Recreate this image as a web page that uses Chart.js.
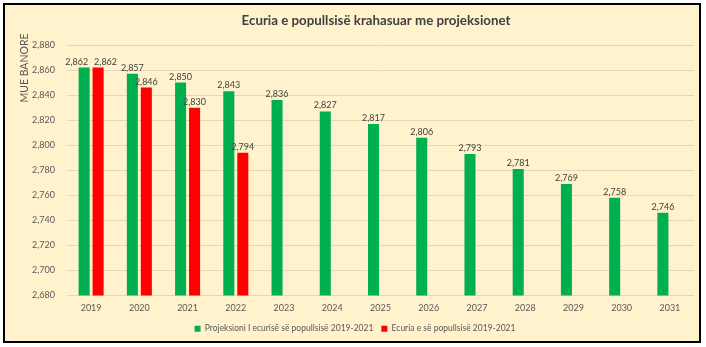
<!DOCTYPE html>
<html>
<head>
<meta charset="utf-8">
<script src="https://cdn.jsdelivr.net/npm/chart.js@4.4.1/dist/chart.umd.min.js"></script>
<style>
    body { margin: 0; background: #fff; }
    #marco { position: absolute; left: 3px; top: 3px; width: 694px; height: 336px; border: 2px solid #000; background: #FFF2CC; }
    #grafico { position: absolute; left: 0; top: 0; }
</style>
</head>
<body>
<div id="marco"></div>
<canvas id="grafico" width="706" height="347"></canvas>
<script>
//DATOS DEL GRAFICO
var anios = ["2019", "2020", "2021", "2022", "2023", "2024", "2025", "2026", "2027", "2028", "2029", "2030", "2031"];
var proyeccion = [2862, 2857, 2850, 2843, 2836, 2827, 2817, 2806, 2793, 2781, 2769, 2758, 2746];
var real = [2862, 2846, 2830, 2794, null, null, null, null, null, null, null, null, null];
var serieProyeccion = "Projeksioni I ecurisë së popullsisë 2019-2021";
var serieReal = "Ecuria e së popullsisë 2019-2021";
var titulo = "Ecuria e popullsisë krahasuar me projeksionet";
var tituloEje = "MUE BANORE";
var ejeMin = 2680, ejeMax = 2880, ejePaso = 20;

var fuente = "Lato";

//ETIQUETAS DE VALOR ENCIMA DE CADA BARRA
var etiquetasPlugin = {
    id: "etiquetas",
    afterDatasetsDraw: function (chart) {
        var ctx = chart.ctx;
        ctx.save();
        ctx.font = "9px " + fuente;
        ctx.fillStyle = "#404040";
        ctx.textAlign = "center";
        ctx.textBaseline = "alphabetic";
        for (var i = 0; i < anios.length; i++) {
            var items = [];
            for (var d = 0; d < chart.data.datasets.length; d++) {
                var v = chart.data.datasets[d].data[i];
                if (v == null) continue;
                var bar = chart.getDatasetMeta(d).data[i];
                var texto = v.toLocaleString("en-US");
                items.push({ x: bar.x, y: bar.y - 3, texto: texto, w: ctx.measureText(texto).width });
            }
            //SEPARA LAS ETIQUETAS QUE SE ENCIMAN
            if (items.length == 2 && Math.abs(items[0].y - items[1].y) < 12) {
                var minSep = (items[0].w + items[1].w) / 2 + 6;
                if (items[1].x - items[0].x < minSep) {
                    var c = (items[0].x + items[1].x) / 2;
                    items[0].x = c - minSep / 2;
                    items[1].x = c + minSep / 2;
                }
            }
            items.forEach(function (it) { ctx.fillText(it.texto, it.x, it.y); });
        }
        ctx.restore();
    }
};

//TITULO DEL GRAFICO Y TITULO DEL EJE Y
var textosPlugin = {
    id: "textos",
    afterDraw: function (chart) {
        var ctx = chart.ctx;
        ctx.save();
        ctx.fillStyle = "#404040";
        ctx.textAlign = "center";
        ctx.textBaseline = "middle";
        ctx.font = "bold 13.3px " + fuente;
        ctx.fillText(titulo, 376, 21);

        ctx.fillStyle = "#595959";
        ctx.font = "10.5px " + fuente;
        ctx.translate(24.5, 68);
        ctx.rotate(-Math.PI / 2);
        ctx.fillText(tituloEje, 0, 0);
        ctx.restore();
    }
};

var ctx = document.getElementById("grafico").getContext("2d");
new Chart(ctx, {
    type: "bar",
    data: {
        labels: anios,
        datasets: [{
            label: serieProyeccion,
            data: proyeccion,
            backgroundColor: "#00B050"
        }, {
            label: serieReal,
            data: real,
            backgroundColor: "#FF0000"
        }]
    },
    options: {
        responsive: false,
        animation: false,
        layout: {
            padding: { left: 16, right: 12, top: 45, bottom: 4 }
        },
        datasets: {
            bar: { categoryPercentage: 0.58, barPercentage: 0.79 }
        },
        scales: {
            x: {
                grid: { display: false, drawTicks: false },
                border: { display: false },
                ticks: { color: "#595959", font: { family: fuente, size: 9 }, padding: 7, maxRotation: 0 },
                afterFit: function (scale) { scale.height = 21; }
            },
            y: {
                min: ejeMin,
                max: ejeMax,
                grid: { color: "#E2D8B9", drawTicks: false },
                border: { display: false },
                ticks: {
                    stepSize: ejePaso,
                    color: "#595959",
                    font: { family: fuente, size: 9 },
                    padding: 12,
                    callback: function (v) { return v.toLocaleString("en-US"); }
                },
                afterFit: function (scale) { scale.width = 51; }
            }
        },
        plugins: {
            legend: {
                position: "bottom",
                labels: {
                    color: "#595959",
                    font: { family: fuente, size: 8.5 },
                    boxWidth: 6,
                    boxHeight: 6,
                    padding: 8
                }
            },
            tooltip: { enabled: false }
        }
    },
    plugins: [etiquetasPlugin, textosPlugin]
});
</script>
</body>
</html>
